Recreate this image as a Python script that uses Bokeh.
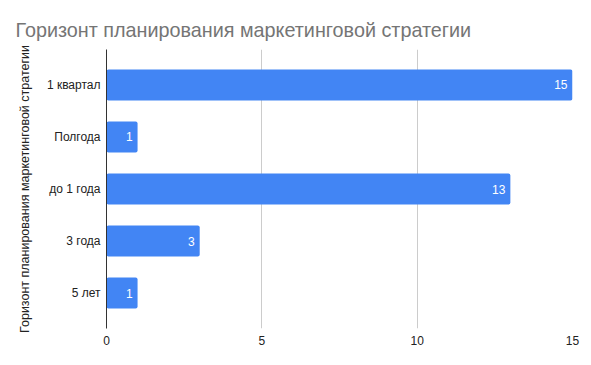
from bokeh.plotting import figure
from bokeh.models import ColumnDataSource, FactorRange, Range1d, FixedTicker, LabelSet, Title
from bokeh.core.properties import value
from bokeh.embed import file_html
from bokeh.resources import INLINE

categories = ["1 квартал", "Полгода", "до 1 года", "3 года", "5 лет"]
values = [15, 1, 13, 3, 1]
x_ticks = [0, 5, 10, 15]

FONT = "Liberation Sans"

src = ColumnDataSource(dict(cat=categories, val=values, lbl=[str(v) for v in values]))

p = figure(width=591, height=365, output_backend="svg", toolbar_location=None,
           y_range=FactorRange(factors=categories[::-1], range_padding=0.073),
           x_range=Range1d(0, 15),
           min_border_left=106, min_border_right=19, min_border_top=49, min_border_bottom=37)

p.title.text = "Горизонт планирования маркетинговой стратегии"
p.title.text_font = FONT
p.title.text_font_size = "19.8px"
p.title.text_font_style = "normal"
p.title.text_color = "#757575"
p.title.offset = -91
p.title.standoff = 17

p.hbar(y="cat", right="val", left=0, height=0.6, source=src,
       fill_color="#4285F4", line_color=None, border_radius=2)

labels = LabelSet(x="val", y="cat", text="lbl", source=src, x_offset=-5,
                  text_align="right", text_baseline="middle",
                  text_color="white", text_font=value(FONT), text_font_size="12px")
p.add_layout(labels)

ytitle = Title(text="Горизонт планирования маркетинговой стратегии", align="center",
               offset=10, standoff=24, text_font=FONT, text_font_size="12.5px",
               text_font_style="normal", text_color="#222222")
p.add_layout(ytitle, "left")

p.outline_line_color = None
p.background_fill_color = "white"
p.border_fill_color = "white"

p.xaxis.ticker = FixedTicker(ticks=x_ticks)
p.xaxis.axis_line_color = None
p.xaxis.major_tick_line_color = None
p.xaxis.minor_tick_line_color = None
p.xaxis.major_tick_out = 0
p.xaxis.major_label_text_font = FONT
p.xaxis.major_label_text_font_size = "12px"
p.xaxis.major_label_text_color = "#222222"
p.xaxis.major_label_standoff = 7

p.yaxis.axis_line_color = "#333333"
p.yaxis.axis_line_width = 1
p.yaxis.major_tick_line_color = None
p.yaxis.minor_tick_line_color = None
p.yaxis.major_tick_out = 0
p.yaxis.major_label_text_font = FONT
p.yaxis.major_label_text_font_size = "12px"
p.yaxis.major_label_text_color = "#222222"
p.yaxis.major_label_standoff = 6

p.xgrid.grid_line_color = "#cccccc"
p.ygrid.grid_line_color = None

open("out.html", "w").write(file_html(p, INLINE))
